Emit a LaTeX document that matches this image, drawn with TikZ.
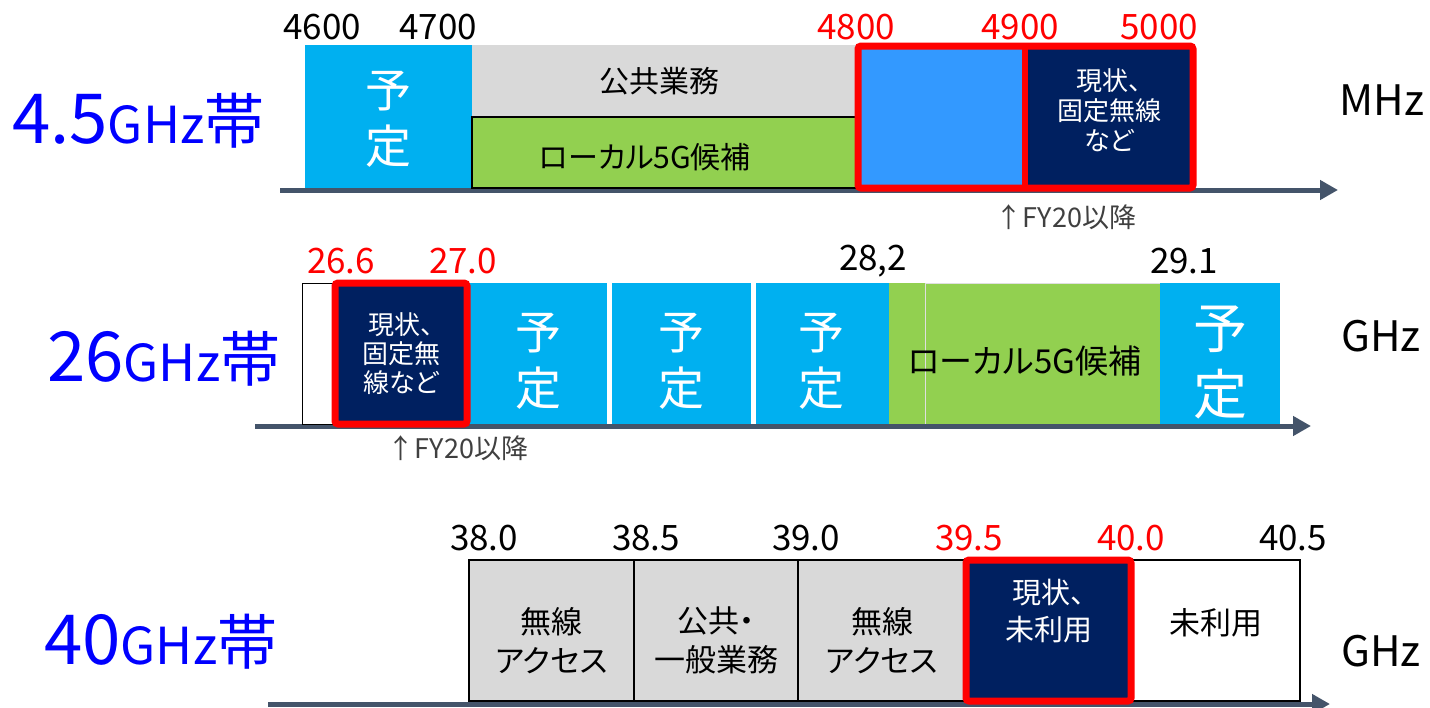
\documentclass[tikz,border=0pt]{standalone}
\usepackage{fontspec}
\setmainfont{Noto Sans CJK JP}[RawFeature=+palt]
\usetikzlibrary{arrows.meta,positioning}

\definecolor{bandcyan}{HTML}{00B0F0}
\definecolor{bandgray}{HTML}{D9D9D9}
\definecolor{bandgreen}{HTML}{92D050}
\definecolor{bandblue}{HTML}{3399FF}
\definecolor{bandnavy}{HTML}{002060}
\definecolor{frred}{HTML}{FF0000}
\definecolor{axisgray}{HTML}{44546A}
\definecolor{nameblue}{HTML}{0000FF}
\definecolor{fygray}{HTML}{404040}

\newcommand{\bandlabel}[1]{{\fontsize{69}{72}\selectfont #1}{\fontsize{51}{54}\selectfont GHz}{\fontsize{60}{64}\selectfont 帯}}

\begin{document}
\begin{tikzpicture}[
    x=1pt, y=-1pt,
    box/.style={rectangle, inner sep=0pt, outer sep=0pt, anchor=north west},
    edged/.style={draw=black, line width=1.2pt},
    wtxt/.style={align=center, inner sep=0pt, text=white},
    btxt/.style={align=center, inner sep=0pt, text=black},
    yotei/.style={wtxt, font=\fontsize{46}{56}\selectfont},
    num/.style={inner sep=0pt, font=\fontsize{35}{40}\selectfont},
    rnum/.style={num, text=frred},
    unit/.style={inner sep=0pt, font=\fontsize{42}{48}\selectfont},
    fy/.style={inner sep=0pt, text=fygray, font=\fontsize{27}{30}\selectfont},
    bandname/.style={anchor=base west, inner sep=0pt, text=nameblue},
    axis/.style={draw=axisgray, line width=5pt, -{Triangle[length=18pt,width=19pt]}},
    redframe/.style={draw=frred, line width=7pt, rounded corners=3pt},
    divider/.style={draw=white, line width=5pt}
]
\useasboundingbox (0,0) rectangle (1430,707);

% axes
\coordinate (ax1a) at (280,190);
\coordinate (ax1b) at (1338,190);
\coordinate (ax2a) at (255,426);
\coordinate (ax2b) at (1311,426);
\coordinate (ax3a) at (268,704);
\coordinate (ax3b) at (1330,704);
\draw[axis] (ax1a) -- (ax1b);
\draw[axis] (ax2a) -- (ax2b);
\draw[axis] (ax3a) -- (ax3b);

% band names
\node[bandname] (name1) at (12,143) {\bandlabel{4.5}};
\node[bandname] (name2) at (47,381) {\bandlabel{26}};
\node[bandname] (name3) at (44,664) {\bandlabel{40}};

% 4.5GHz
\node[box, fill=bandcyan, minimum width=167pt, minimum height=143pt] (a1) at (305,45) {};
\node[box, fill=bandgray, minimum width=384pt, minimum height=72pt] (a2) at (a1.north east) {};
\node[box, fill=bandgreen, edged, minimum width=384pt, minimum height=71pt] (a3) at (472,117) {};
\node[box, fill=bandblue, minimum width=167pt, minimum height=142pt] (a4) at (858,46) {};
\node[box, fill=bandnavy, minimum width=168pt, minimum height=142pt] (a5) at (a4.north east) {};
\node[yotei] (a1t) at ([yshift=-3pt]a1.center) {予\\定};
\node[btxt, font=\fontsize{30}{36}\selectfont] (a2t) at ([xshift=-5pt]a2.center) {公共業務};
\node[btxt, font=\fontsize{30}{36}\selectfont] (a3t) at ([xshift=-19pt,yshift=-5pt]a3.center) {ローカル5G候補};
\node[wtxt, font=\fontsize{26}{30}\selectfont] (a5t) at ([yshift=7pt]a5.center) {現状、\\固定無線\\など};
\draw[redframe] (a4.north west) rectangle (a5.south east);
\draw[draw=frred, line width=6pt] (a4.north east) -- (a4.south east);

% 26GHz
\node[box, fill=white, draw=black, line width=1pt, minimum width=33pt, minimum height=141pt] (b0) at (302,283) {};
\node[box, fill=bandnavy, minimum width=132pt, minimum height=141pt] (b1) at (335,283) {};
\node[box, fill=bandcyan, minimum width=142pt, minimum height=141pt] (b2) at (467,283) {};
\node[box, fill=bandcyan, minimum width=144pt, minimum height=141pt] (b3) at (609,283) {};
\node[box, fill=bandcyan, minimum width=136pt, minimum height=141pt] (b4) at (753,283) {};
\node[box, fill=bandgreen, minimum width=271pt, minimum height=141pt] (b5) at (889,283) {};
\node[box, fill=bandcyan, minimum width=120pt, minimum height=141pt] (b6) at (1160,283) {};
\draw[divider] (b2.north east) -- (b2.south east);
\draw[divider] (b3.north east) -- (b3.south east);
\draw[draw=gray!25, line width=1pt] ([xshift=36pt]b5.south west) |- (b5.north east);
\node[wtxt, font=\fontsize{26}{29}\selectfont] (b1t) at (b1.center) {現状、\\固定無\\線など};
\node[yotei] (b2t) at ([yshift=-8pt]b2.center) {予\\定};
\node[yotei] (b3t) at ([yshift=-8pt]b3.center) {予\\定};
\node[yotei] (b4t) at ([yshift=-8pt]b4.center) {予\\定};
\node[btxt, font=\fontsize{33}{38}\selectfont] (b5t) at ([yshift=-8pt]b5.center) {ローカル5G候補};
\node[wtxt, font=\fontsize{54}{66}\selectfont] (b6t) at ([yshift=-9pt]b6.center) {予\\定};
\draw[redframe] (b1.north west) rectangle (b1.south east);

% 40GHz
\node[box, fill=bandgray, edged, minimum width=165pt, minimum height=141pt] (c1) at (469,560) {};
\node[box, fill=bandgray, edged, minimum width=164pt, minimum height=141pt] (c2) at (c1.north east) {};
\node[box, fill=bandgray, edged, minimum width=168pt, minimum height=141pt] (c3) at (c2.north east) {};
\node[box, fill=bandnavy, minimum width=165pt, minimum height=141pt] (c4) at (c3.north east) {};
\node[box, fill=white, edged, minimum width=169pt, minimum height=141pt] (c5) at (c4.north east) {};
\node[btxt, font=\fontsize{31}{39}\selectfont] (c1t) at ([yshift=-10pt]c1.center) {無線\\アクセス};
\node[btxt, font=\fontsize{31}{39}\selectfont] (c2t) at ([yshift=-10pt]c2.center) {公共・\\一般業務};
\node[btxt, font=\fontsize{31}{39}\selectfont] (c3t) at ([yshift=-10pt]c3.center) {無線\\アクセス};
\node[wtxt, font=\fontsize{29}{37}\selectfont] (c4t) at ([yshift=19pt]c4.center) {現状、\\未利用};
\node[btxt, font=\fontsize{31}{39}\selectfont] (c5t) at ([yshift=8pt]c5.center) {未利用};
\draw[redframe] (c4.north west) rectangle (c4.south east);

% frequencies
\foreach \v/\x [count=\i] in {4600/322, 4700/438}
    \node[num] (fa\i) at (\x,27) {\v};
\foreach \v/\x [count=\i] in {4800/856, 4900/1020, 5000/1159}
    \node[rnum] (fr\i) at (\x,27) {\v};
\foreach \v/\x [count=\i] in {26.6/341, 27.0/463}
    \node[rnum] (gr\i) at (\x,261) {\v};
\foreach \v/\x [count=\i] in {{28,2}/873, 29.1/1184}
    \node[num] (gb\i) at (\x,261) {\v};
\foreach \v/\x [count=\i] in {38.0/484, 38.5/646, 39.0/806, 40.5/1293}
    \node[num] (hb\i) at (\x,538) {\v};
\foreach \v/\x [count=\i] in {39.5/969, 40.0/1131}
    \node[rnum] (hr\i) at (\x,538) {\v};

% units and notes
\node[unit] (u1) at (1382,100) {MHz};
\node[unit] (u2) at (1381,336) {GHz};
\node[unit] (u3) at (1381,651) {GHz};
\node[fy] (fy1) at (1066,217) {↑FY20以降};
\node[fy] (fy2) at (458,448) {↑FY20以降};
\end{tikzpicture}
\end{document}
